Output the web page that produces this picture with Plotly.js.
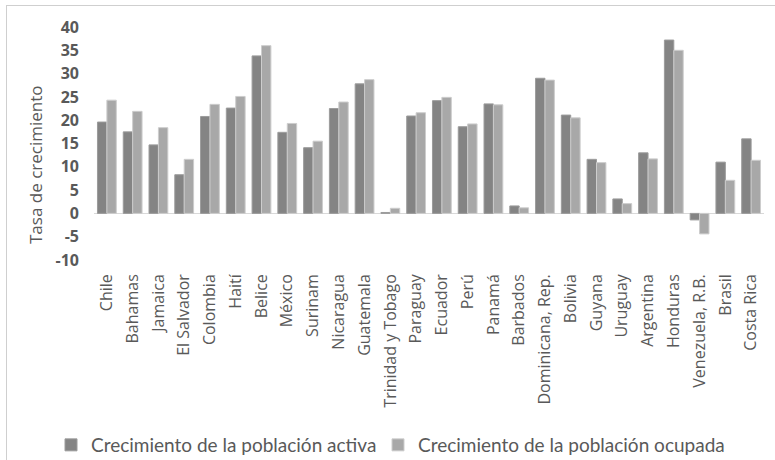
<!DOCTYPE html>
<html>
<head>
<meta charset="utf-8">
<script src="https://cdn.plot.ly/plotly-3.0.1.min.js"></script>
<style>
  html, body { margin: 0; padding: 0; background: #ffffff; }
  #wrap { position: relative; width: 775px; height: 460px; overflow: hidden; }
  #chart { position: absolute; left: 0; top: 0; width: 775px; height: 460px; }
  #frame { position: absolute; left: 6px; top: 5px; width: 800px; height: 500px;
           border-left: 1px solid #cfcfcf; border-top: 1px solid #cfcfcf; pointer-events: none; }
</style>
</head>
<body>
<div id="wrap">
  <div id="chart"></div>
  <div id="frame"></div>
</div>
<script>
// Countries (x categories)
const paises = ['Chile', 'Bahamas', 'Jamaica', 'El Salvador', 'Colombia', 'Haití', 'Belice',
  'México', 'Surinam', 'Nicaragua', 'Guatemala', 'Trinidad y Tobago', 'Paraguay', 'Ecuador',
  'Perú', 'Panamá', 'Barbados', 'Dominicana, Rep.', 'Bolivia', 'Guyana', 'Uruguay',
  'Argentina', 'Honduras', 'Venezuela, R.B.', 'Brasil', 'Costa Rica'];

// Growth of the labour force (%)
const poblacionActiva = [19.6, 17.5, 14.7, 8.3, 20.8, 22.6, 33.8, 17.4, 14.1, 22.5, 27.8, 0.2,
  20.9, 24.2, 18.6, 23.5, 1.6, 29.0, 21.1, 11.6, 3.1, 13.0, 37.2, -1.4, 11.0, 16.0];

// Growth of the employed population (%)
const poblacionOcupada = [24.3, 21.9, 18.4, 11.6, 23.4, 25.1, 36.0, 19.3, 15.5, 23.9, 28.7, 1.1,
  21.6, 24.9, 19.2, 23.3, 1.2, 28.6, 20.5, 10.9, 2.1, 11.7, 35.0, -4.4, 7.1, 11.4];

// Y axis ticks
const yTicks = [-10, -5, 0, 5, 10, 15, 20, 25, 30, 35, 40];

const nombreActiva = 'Crecimiento de la población activa';
const nombreOcupada = 'Crecimiento de la población ocupada';
const tituloY = 'Tasa de crecimiento';

const gris = '#595959';

const traces = [
  {
    type: 'bar', name: nombreActiva, x: paises, y: poblacionActiva, legend: 'legend',
    marker: { color: '#848484', line: { color: '#9c9c9c', width: 1 } },
    hoverinfo: 'x+y'
  },
  {
    type: 'bar', name: nombreOcupada, x: paises, y: poblacionOcupada, legend: 'legend2',
    marker: { color: '#a8a8a8', line: { color: '#cdcdcd', width: 1 } },
    hoverinfo: 'x+y'
  }
];

// one legend box per series, side by side under the axis labels
const legendBase = (left) => ({
  orientation: 'h', xref: 'container', yref: 'container',
  x: left / 775, xanchor: 'left', y: 15 / 460, yanchor: 'middle',
  font: { family: 'Lato, "Open Sans", sans-serif', size: 19, color: gris },
  bgcolor: 'rgba(0,0,0,0)'
});

const layout = {
  width: 775, height: 460,
  margin: { l: 94, r: 11, t: 27, b: 200, pad: 0 },
  paper_bgcolor: '#ffffff', plot_bgcolor: '#ffffff',
  barmode: 'group', bargap: 0.27, bargroupgap: 0,
  showlegend: true,
  legend: legendBase(51),
  legend2: legendBase(378),
  xaxis: {
    type: 'category', tickangle: -90, showgrid: false, showline: false, zeroline: false,
    ticks: '', ticklabelstandoff: 10,
    tickfont: { family: '"Open Sans", sans-serif', size: 16, color: gris }
  },
  yaxis: {
    range: [-10, 40], tickvals: yTicks, ticktext: yTicks.map(String),
    showgrid: false, showline: false,
    zeroline: true, zerolinecolor: '#d9d9d9', zerolinewidth: 1,
    ticks: '', ticklabelstandoff: 14,
    tickfont: { family: '"Open Sans", sans-serif', size: 16, color: gris, weight: 'bold' }
  },
  annotations: [
    {
      text: tituloY, xref: 'paper', yref: 'paper',
      x: (35 - 94) / (775 - 94 - 11), y: (260 - 165) / 233,
      xanchor: 'center', yanchor: 'middle', textangle: -90, showarrow: false,
      font: { family: '"Open Sans", sans-serif', size: 17, color: gris }
    }
  ]
};

Plotly.newPlot('chart', traces, layout, { displayModeBar: false, staticPlot: true });
</script>
</body>
</html>
